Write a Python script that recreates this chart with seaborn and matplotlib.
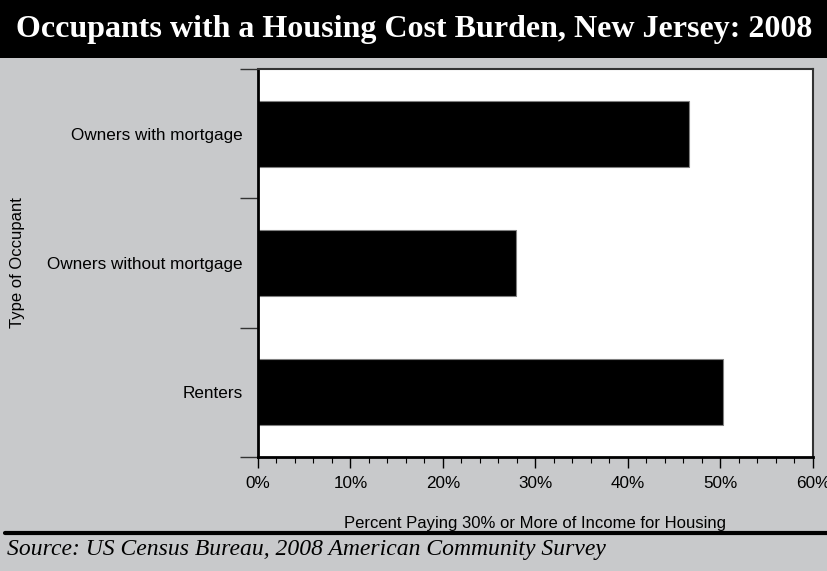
import matplotlib
matplotlib.use("Agg")
import matplotlib.pyplot as plt
import seaborn as sns
import pandas as pd
from matplotlib.ticker import FixedLocator, PercentFormatter, MultipleLocator

categories = ["Owners with mortgage", "Owners without mortgage", "Renters"]
values = [46.6, 27.9, 50.3]
xticks = [0, 10, 20, 30, 40, 50, 60]

df = pd.DataFrame({"cat": categories, "val": values})

sns.set_theme(style="white")
plt.rcParams['font.family'] = ['Liberation Sans', 'DejaVu Sans']

bg = "#c8c9cb"
fig = plt.figure(figsize=(8.28, 5.71), dpi=100, facecolor=bg)
ax = fig.add_axes([258/828, 1-457/571, (813-258)/828, (457-69)/571])
ax.set_facecolor("white")

sns.barplot(data=df, x="val", y="cat", color="black", width=0.51, ax=ax,
            saturation=1, edgecolor="#808080", linewidth=0.8)

ax.set_xlim(0, 60)
ax.set_ylim(2.5, -0.5)
ax.xaxis.set_major_locator(FixedLocator(xticks))
ax.xaxis.set_minor_locator(MultipleLocator(2))
ax.xaxis.set_major_formatter(PercentFormatter(decimals=0))
ax.yaxis.set_minor_locator(FixedLocator([-0.5, 0.5, 1.5, 2.5]))

ax.tick_params(axis="x", which="major", direction="out", length=8, width=1, color="black",
               labelsize=12.3, pad=6, labelcolor="black", bottom=True)
ax.tick_params(axis="x", which="minor", direction="out", length=4, width=0.8, color="black", bottom=True)
ax.tick_params(axis="y", which="major", length=0, labelsize=12.3, pad=11, labelcolor="black")
ax.tick_params(axis="y", which="minor", direction="out", length=13, width=1, color="#333333", left=True)

for s in ["left", "bottom"]:
    ax.spines[s].set_color("black")
    ax.spines[s].set_linewidth(2)
for s in ["top", "right"]:
    ax.spines[s].set_color("#333333")
    ax.spines[s].set_linewidth(1.5)

ax.set_xlabel("Percent Paying 30% or More of Income for Housing", fontsize=12, color="black", labelpad=18)
ax.set_ylabel("")
fig.text(18/828, 1-263/571, "Type of Occupant", rotation=90, ha="center", va="center",
         fontsize=12, color="black")

# Title band
fig.patches.append(plt.Rectangle((0, 1-58/571), 1, 58/571, transform=fig.transFigure,
                                 facecolor="black", edgecolor="none", zorder=0))
fig.text(0.5, 1-30/571, "Occupants with a Housing Cost Burden, New Jersey: 2008",
         ha="center", va="center", color="white", fontsize=23, fontweight="bold",
         family=["Liberation Serif", "DejaVu Serif"])

# Source line
fig.add_artist(plt.Line2D([5/828, 1], [1-533/571, 1-533/571], color="black", linewidth=3,
                          transform=fig.transFigure))
fig.text(7/828, 1-550/571, "Source: US Census Bureau, 2008 American Community Survey",
         ha="left", va="center", color="black", fontsize=17, style="italic",
         family=["Liberation Serif", "DejaVu Serif"])

fig.savefig("out.png", dpi=100, facecolor=bg)
